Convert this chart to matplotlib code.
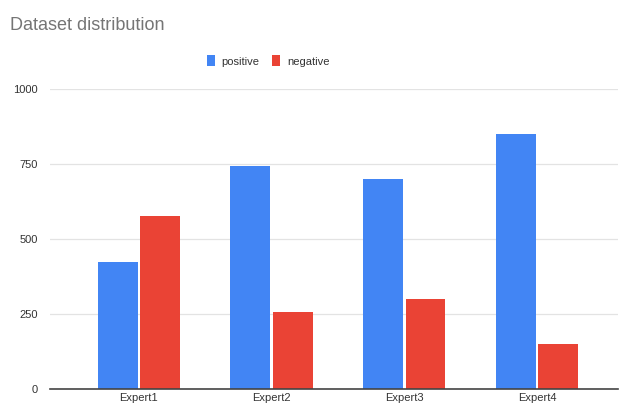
import matplotlib
matplotlib.use("Agg")
import matplotlib.pyplot as plt
import numpy as np

plt.rcParams['font.family'] = ['Liberation Sans', 'DejaVu Sans']

experts = ["Expert1", "Expert2", "Expert3", "Expert4"]
positive = [425, 742, 700, 850]
negative = [575, 258, 300, 150]
yticks = [0, 250, 500, 750, 1000]

blue = "#4285F4"
red = "#EA4335"

fig = plt.figure(figsize=(6.2, 4.08), dpi=100)
ax = fig.add_axes([50 / 620, 19 / 408, 568 / 620, 300 / 408])

x = np.arange(len(experts))
w = 0.3
ax.bar(x - 0.16, positive, w, color=blue, label="positive", zorder=3)
ax.bar(x + 0.16, negative, w, color=red, label="negative", zorder=3)

ax.set_xlim(-0.67, 3.61)
ax.set_ylim(0, 1000)
ax.set_yticks(yticks)
ax.set_yticklabels([str(v) for v in yticks])
ax.set_xticks(x)
ax.set_xticklabels(experts)

ax.grid(axis="y", color="#e3e3e3", linewidth=0.9, zorder=0)
ax.axhline(0, color="#444444", linewidth=1.2, zorder=4, clip_on=False)
for s in ax.spines.values():
    s.set_visible(False)
ax.tick_params(axis="both", length=0, labelsize=8, labelcolor="#333333")
ax.tick_params(axis="y", pad=9)
ax.tick_params(axis="x", pad=3)

fig.text(10 / 620, 1 - 25 / 408, "Dataset distribution", fontsize=13,
         color="#757575", va="center", ha="left")

fig.legend(loc="center", bbox_to_anchor=(268 / 620, 1 - 61 / 408), ncol=2,
           frameon=False, fontsize=8, handlelength=0.75, handleheight=1.1,
           handletextpad=0.6, columnspacing=1.1, labelcolor="#333333")

fig.savefig("out.png", dpi=100)
